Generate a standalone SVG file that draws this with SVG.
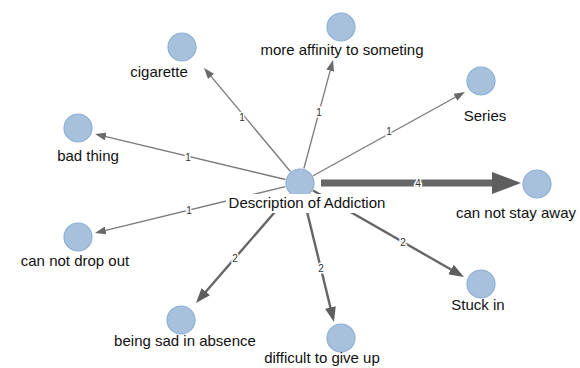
<svg xmlns="http://www.w3.org/2000/svg" width="580" height="368" viewBox="0 0 580 368">
<style>
.node{fill:#a7c0dc;stroke:#8cb0d8;stroke-width:1.2}
.lbl{font-family:"Liberation Sans",Arial,sans-serif;font-size:15px;fill:#111;text-anchor:middle}
.e1{stroke:#7a7a7a;stroke-width:1.3;fill:none}
.e2{stroke:#666;stroke-width:2.4;fill:none}
.e4{stroke:#666;stroke-width:7;fill:none}
.el{font-family:"Liberation Sans",Arial,sans-serif;font-size:10px;fill:#333;text-anchor:middle;stroke:#fff;stroke-width:3;paint-order:stroke;dominant-baseline:central}
</style>
<defs>
<marker id="a1" viewBox="0 0 11 8" refX="2" refY="4" markerWidth="11" markerHeight="8" markerUnits="userSpaceOnUse" orient="auto"><path d="M0,0 L11,4 L0,8 z" fill="#6a6a6a"/></marker>
<marker id="a2" viewBox="0 0 15 11" refX="2" refY="5.5" markerWidth="15" markerHeight="11" markerUnits="userSpaceOnUse" orient="auto"><path d="M0,0 L15,5.5 L0,11 z" fill="#5e5e5e"/></marker>
<marker id="a4" viewBox="0 0 29 22" refX="2" refY="11" markerWidth="29" markerHeight="22" markerUnits="userSpaceOnUse" orient="auto"><path d="M0,0 L29,11 L0,22 z" fill="#5e5e5e"/></marker>
</defs>
<rect width="580" height="368" fill="#fff"/>
<g id="connectors">
<line class="e1" x1="290.4" y1="171.5" x2="209.8" y2="74.9" marker-end="url(#a1)"/>
<line class="e1" x1="303.9" y1="168.5" x2="330.7" y2="68.7" marker-end="url(#a1)"/>
<line class="e1" x1="313.1" y1="175.8" x2="457.1" y2="96.3" marker-end="url(#a1)"/>
<line class="e1" x1="285.4" y1="179.5" x2="103.8" y2="136.1" marker-end="url(#a1)"/>
<line class="e1" x1="285.4" y1="186.6" x2="103.7" y2="230.9" marker-end="url(#a1)"/>
<line class="e4" x1="321" y1="183" x2="494" y2="183" marker-end="url(#a4)"/>
<line class="e2" x1="290.2" y1="194.3" x2="204.5" y2="293.2" marker-end="url(#a2)"/>
<line class="e2" x1="303.6" y1="197.6" x2="330.9" y2="309.4" marker-end="url(#a2)"/>
<line class="e2" x1="313" y1="190.5" x2="452.7" y2="270.5" marker-end="url(#a2)"/>
<text class="el" x="242" y="117">1</text>
<text class="el" x="319" y="112">1</text>
<text class="el" x="389" y="131">1</text>
<text class="el" x="188" y="157">1</text>
<text class="el" x="189" y="210">1</text>
<text class="el" x="418" y="183">4</text>
<text class="el" x="235" y="258">2</text>
<text class="el" x="321" y="268">2</text>
<text class="el" x="403" y="242">2</text>
</g>
<g id="n-center"><circle class="node" cx="300" cy="183" r="14"/><rect x="226" y="194" width="163" height="19" fill="#fff"/><text class="lbl" x="307" y="208">Description of Addiction</text></g>
<g id="n-cigarette"><circle class="node" cx="182" cy="47" r="14"/><text class="lbl" x="159" y="77">cigarette</text></g>
<g id="n-affinity"><circle class="node" cx="341" cy="27" r="14"/><text class="lbl" x="342" y="55">more affinity to someting</text></g>
<g id="n-series"><circle class="node" cx="481" cy="81" r="14"/><text class="lbl" x="485" y="121">Series</text></g>
<g id="n-bad"><circle class="node" cx="78" cy="128" r="14"/><text class="lbl" x="88" y="161">bad thing</text></g>
<g id="n-stay"><circle class="node" cx="537" cy="184" r="14"/><text class="lbl" x="516" y="218">can not stay away</text></g>
<g id="n-drop"><circle class="node" cx="78" cy="237" r="14"/><text class="lbl" x="75" y="266">can not drop out</text></g>
<g id="n-sad"><circle class="node" cx="181" cy="320" r="14"/><text class="lbl" x="185" y="346">being sad in absence</text></g>
<g id="n-difficult"><circle class="node" cx="341" cy="338" r="14"/><text class="lbl" x="322" y="363">difficult to give up</text></g>
<g id="n-stuck"><circle class="node" cx="481" cy="284" r="14"/><text class="lbl" x="478" y="310">Stuck in</text></g>
</svg>
